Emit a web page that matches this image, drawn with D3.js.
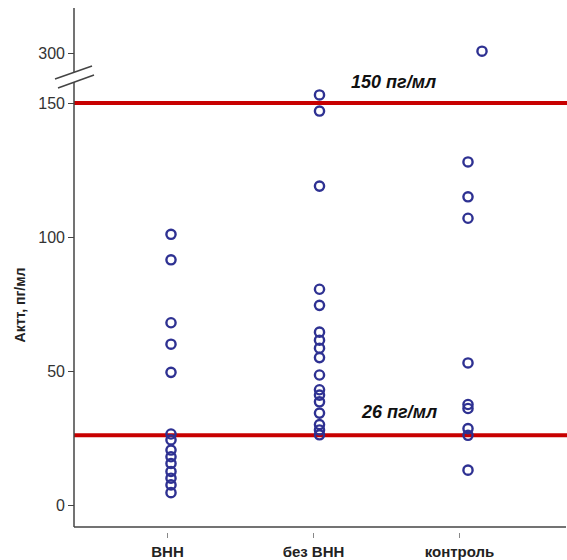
<!DOCTYPE html>
<html><head><meta charset="utf-8">
<script src="https://cdn.jsdelivr.net/npm/d3@7"></script>
<style>body{margin:0;background:#fff}text{font-family:"Liberation Sans",Arial,sans-serif}</style>
</head><body><svg id="c" width="567" height="560"></svg>
<script>
const categories = ["ВНН", "без ВНН", "контроль"];
const valuesVNN = [101, 91.5, 68, 60, 49.5, 26.5, 24.3, 20.5, 18, 15.5, 12.5, 10, 7.5, 4.6];
const valuesBezVNN = [153, 147, 119, 80.5, 74.5, 64.5, 61.5, 58.5, 55, 48.5, 43, 41, 38.5, 34.3, 30, 28, 26.2];
const valuesControl = [128, 115, 107, 53, 37.5, 36, 28.5, 26, 13];
const outlierControl = [301];
const yTicksLower = [0, 50, 100, 150];
const yTicksUpper = [300];
const refLines = [150, 26];
const refLabels = ["150 пг/мл", "26 пг/мл"];

const svg = d3.select("#c");
const axisX = 74, bottomY = 527;
const yLow = d3.scaleLinear().domain([0, 150]).range([505, 103]);
const yUp = d3.scaleLinear().domain([285, 325]).range([80, 8]);
const xTick = d3.scalePoint().domain(categories).range([167, 459]);
const xPt = d3.scalePoint().domain(categories).range([171, 468]);
const axisColor = "#444";

// reference lines
refLines.forEach((v, i) => {
  svg.append("line").attr("x1", axisX).attr("x2", 567)
    .attr("y1", yLow(v)).attr("y2", yLow(v))
    .attr("stroke", "#c80000").attr("stroke-width", 4);
});
svg.append("text").attr("x", 351).attr("y", yLow(refLines[0]) - 15)
  .attr("font-size", 18).attr("font-weight", "bold").attr("font-style", "italic").attr("fill", "#111").text(refLabels[0]);
svg.append("text").attr("x", 362).attr("y", yLow(refLines[1]) - 17)
  .attr("font-size", 18).attr("font-weight", "bold").attr("font-style", "italic").attr("fill", "#111").text(refLabels[1]);

// y axis lower
const gL = svg.append("g").attr("transform", `translate(${axisX},0)`)
  .call(d3.axisLeft(yLow).tickValues(yTicksLower).tickSize(6).tickPadding(3));
gL.select(".domain").remove();
gL.selectAll("line").attr("stroke", axisColor);
gL.selectAll("text").attr("font-size", 16).attr("fill", "#333").style("font-family", "Liberation Sans, Arial, sans-serif");
const gU = svg.append("g").attr("transform", `translate(${axisX},0)`)
  .call(d3.axisLeft(yUp).tickValues(yTicksUpper).tickSize(6).tickPadding(3));
gU.select(".domain").remove();
gU.selectAll("line").attr("stroke", axisColor);
gU.selectAll("text").attr("font-size", 16).attr("fill", "#333").style("font-family", "Liberation Sans, Arial, sans-serif");

// axis lines with break
svg.append("line").attr("x1", axisX).attr("x2", axisX).attr("y1", 8).attr("y2", 72).attr("stroke", axisColor).attr("stroke-width", 1.5);
svg.append("line").attr("x1", axisX).attr("x2", axisX).attr("y1", 82).attr("y2", bottomY).attr("stroke", axisColor).attr("stroke-width", 1.5);
svg.append("line").attr("x1", 55).attr("y1", 79).attr("x2", 92).attr("y2", 66).attr("stroke", axisColor).attr("stroke-width", 1.5);
svg.append("line").attr("x1", 58).attr("y1", 88).attr("x2", 94).attr("y2", 75).attr("stroke", axisColor).attr("stroke-width", 1.5);

// x axis
svg.append("line").attr("x1", axisX).attr("x2", 566).attr("y1", bottomY).attr("y2", bottomY).attr("stroke", axisColor).attr("stroke-width", 1.5);
const gX = svg.append("g").attr("transform", `translate(0,${bottomY + 6})`)
  .call(d3.axisBottom(xTick).tickSize(5).tickPadding(8));
gX.select(".domain").remove();
gX.selectAll("line").attr("stroke", "#888");
gX.selectAll("text").attr("font-size", 15).attr("font-weight", "bold").attr("fill", "#222").style("font-family", "Liberation Sans, Arial, sans-serif");

// y title
svg.append("text").attr("transform", "translate(25,305) rotate(-90)").attr("text-anchor", "middle")
  .attr("font-size", 14).attr("font-weight", "bold").attr("fill", "#222").text("Актт, пг/мл");

// points
const series = [valuesVNN, valuesBezVNN, valuesControl];
const stroke = "#2e3192";
series.forEach((vals, i) => {
  svg.append("g").selectAll("circle").data(vals).join("circle")
    .attr("cx", xPt(categories[i])).attr("cy", d => yLow(d)).attr("r", 4.6)
    .attr("fill", "none").attr("stroke", stroke).attr("stroke-width", 2.4);
});
svg.append("g").selectAll("circle").data(outlierControl).join("circle")
  .attr("cx", xPt(categories[2]) + 14).attr("cy", d => yUp(d)).attr("r", 4.6)
  .attr("fill", "none").attr("stroke", stroke).attr("stroke-width", 2.4);
</script></body></html>
